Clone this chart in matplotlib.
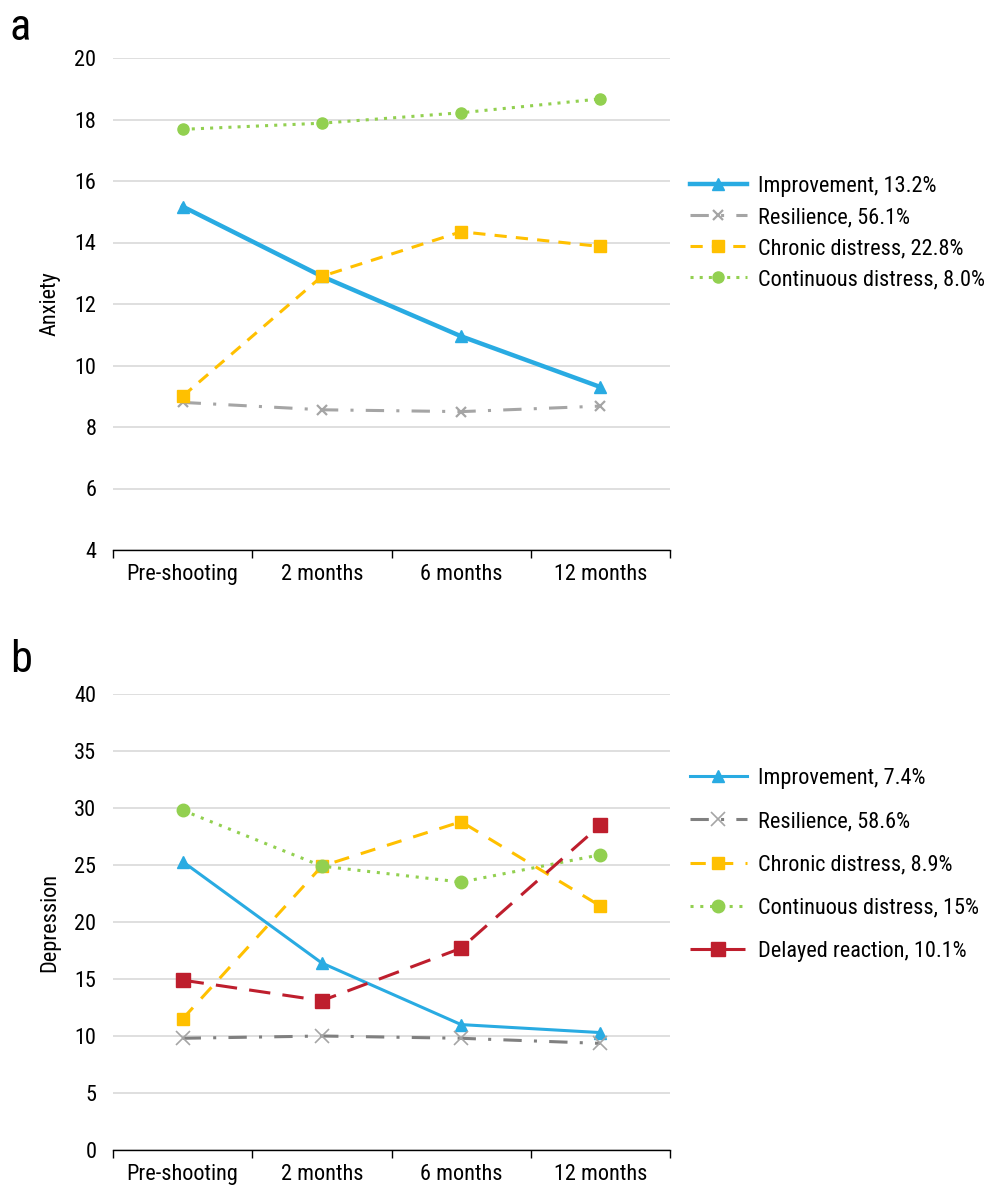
import matplotlib
matplotlib.use("Agg")
import matplotlib.pyplot as plt
from matplotlib import font_manager

cands = []
for f in font_manager.fontManager.ttflist:
    fn = f.fname.lower()
    if ('narrow' in fn or 'condensed' in fn) and 'bold' not in fn and 'italic' not in fn and 'oblique' not in fn:
        cands.append(f)
pref = ['liberationsansnarrow', 'liberation', 'roboto', 'opensans', 'dejavusanscondensed', 'noto']
chosen = None
for p in pref:
    for f in cands:
        if p in f.fname.lower().replace('-', '').replace('_', ''):
            chosen = f
            break
    if chosen:
        break

if chosen is not None:
    font_manager.fontManager.addfont(chosen.fname)
    prop = font_manager.FontProperties(fname=chosen.fname)
    plt.rcParams['font.family'] = [prop.get_name(), 'DejaVu Sans']
    plt.rcParams['font.stretch'] = chosen.stretch
    FS = 16
else:
    plt.rcParams['font.family'] = ['Liberation Sans', 'DejaVu Sans']
    FS = 14

timepoints = ["Pre-shooting", "2 months", "6 months", "12 months"]

# Panel a: Anxiety
anx_labels = ["Improvement, 13.2%", "Resilience, 56.1%", "Chronic distress, 22.8%", "Continuous distress, 8.0%"]
anx_improvement = [15.17, 12.9, 10.95, 9.3]
anx_resilience = [8.8, 8.56, 8.5, 8.68]
anx_chronic = [9.0, 12.9, 14.35, 13.87]
anx_continuous = [17.68, 17.88, 18.22, 18.67]

# Panel b: Depression
dep_labels = ["Improvement, 7.4%", "Resilience, 58.6%", "Chronic distress, 8.9%", "Continuous distress, 15%", "Delayed reaction, 10.1%"]
dep_improvement = [25.3, 16.4, 11.0, 10.3]
dep_resilience = [9.8, 10.0, 9.8, 9.35]
dep_chronic = [11.5, 24.9, 28.8, 21.4]
dep_continuous = [29.8, 24.9, 23.5, 25.9]
dep_delayed = [14.9, 13.1, 17.7, 28.5]

BLUE = '#29ABE2'
GRAY = '#A5A5A5'
DGRAY = '#808080'
YEL = '#FFC000'
GRN = '#92D050'
RED = '#BE1E2D'

fig = plt.figure(figsize=(9.92, 11.88), dpi=100)
W, H = 992, 1188
def rect(l, r, t, b):
    return [l / W, 1 - b / H, (r - l) / W, (b - t) / H]

ax1 = fig.add_axes(rect(113, 670, 58, 550))
ax2 = fig.add_axes(rect(113, 670, 694, 1150))

x = [0.5, 1.5, 2.5, 3.5]

def style(ax, ymin, ymax, step, ylabel):
    ax.set_xlim(0, 4)
    ax.set_ylim(ymin, ymax)
    ax.set_yticks(range(ymin, ymax + 1, step))
    ax.set_xticks([0, 1, 2, 3, 4])
    ax.set_xticklabels([])
    ax.set_xticks(x, minor=True)
    ax.set_xticklabels(timepoints, minor=True, fontsize=FS)
    ax.tick_params(axis='x', which='minor', length=0, pad=10)
    ax.tick_params(axis='x', which='major', length=6, width=1, direction='out', color='black')
    ax.tick_params(axis='y', length=0, labelsize=FS, pad=12)
    for s in ['top', 'right', 'left']:
        ax.spines[s].set_visible(False)
    ax.spines['bottom'].set_color('black')
    ax.spines['bottom'].set_linewidth(1)
    ax.yaxis.grid(True, color='#D9D9D9', linewidth=1.2)
    ax.set_axisbelow(True)
    ax.set_ylabel(ylabel, fontsize=FS, labelpad=10)

# Panel a
h = []
h += ax1.plot(x, anx_improvement, color=BLUE, lw=3.2, marker='^', ms=8, label=anx_labels[0])
h += ax1.plot(x, anx_resilience, color=GRAY, lw=2.2, ls=(0, (6, 4, 1, 4)), marker='x', ms=7, mew=1.6, label=anx_labels[1])
h += ax1.plot(x, anx_chronic, color=YEL, lw=2.2, ls=(0, (4, 3)), marker='s', ms=8, label=anx_labels[2])
h += ax1.plot(x, anx_continuous, color=GRN, lw=2.2, ls=(0, (1, 2)), marker='o', ms=8, label=anx_labels[3])
style(ax1, 4, 20, 2, 'Anxiety')
fig.legend(handles=h, loc='upper left', bbox_to_anchor=(690 / W, 1 - 176 / H), frameon=False,
           fontsize=FS, handlelength=2.55, labelspacing=0.45, handletextpad=0.5, borderaxespad=0, borderpad=0)

# Panel b
h2 = []
h2 += ax2.plot(x, dep_improvement, color=BLUE, lw=2.2, marker='^', ms=9, label=dep_labels[0])
h2 += ax2.plot(x, dep_resilience, color=DGRAY, lw=2.2, ls=(0, (6, 4, 1, 4)), marker='x', ms=10, mew=1.2, mec='#A5A5A5', label=dep_labels[1])
h2 += ax2.plot(x, dep_chronic, color=YEL, lw=2.2, ls=(0, (5, 4)), marker='s', ms=9, label=dep_labels[2])
h2 += ax2.plot(x, dep_continuous, color=GRN, lw=2.2, ls=(0, (1, 2.2)), marker='o', ms=9, label=dep_labels[3])
h2 += ax2.plot(x, dep_delayed, color=RED, lw=2.2, ls=(0, (7, 4)), marker='s', ms=10, label=dep_labels[4])
style(ax2, 0, 40, 5, 'Depression')
fig.legend(handles=h2, loc='upper left', bbox_to_anchor=(690 / W, 1 - 768 / H), frameon=False,
           fontsize=FS, handlelength=2.55, labelspacing=1.0, handletextpad=0.5, borderaxespad=0, borderpad=0)

fig.text(10 / W, 1 - 40 / H, 'a', fontsize=32, va='baseline')
fig.text(10 / W, 1 - 672 / H, 'b', fontsize=32, va='baseline')

fig.savefig('out.png', dpi=100)
